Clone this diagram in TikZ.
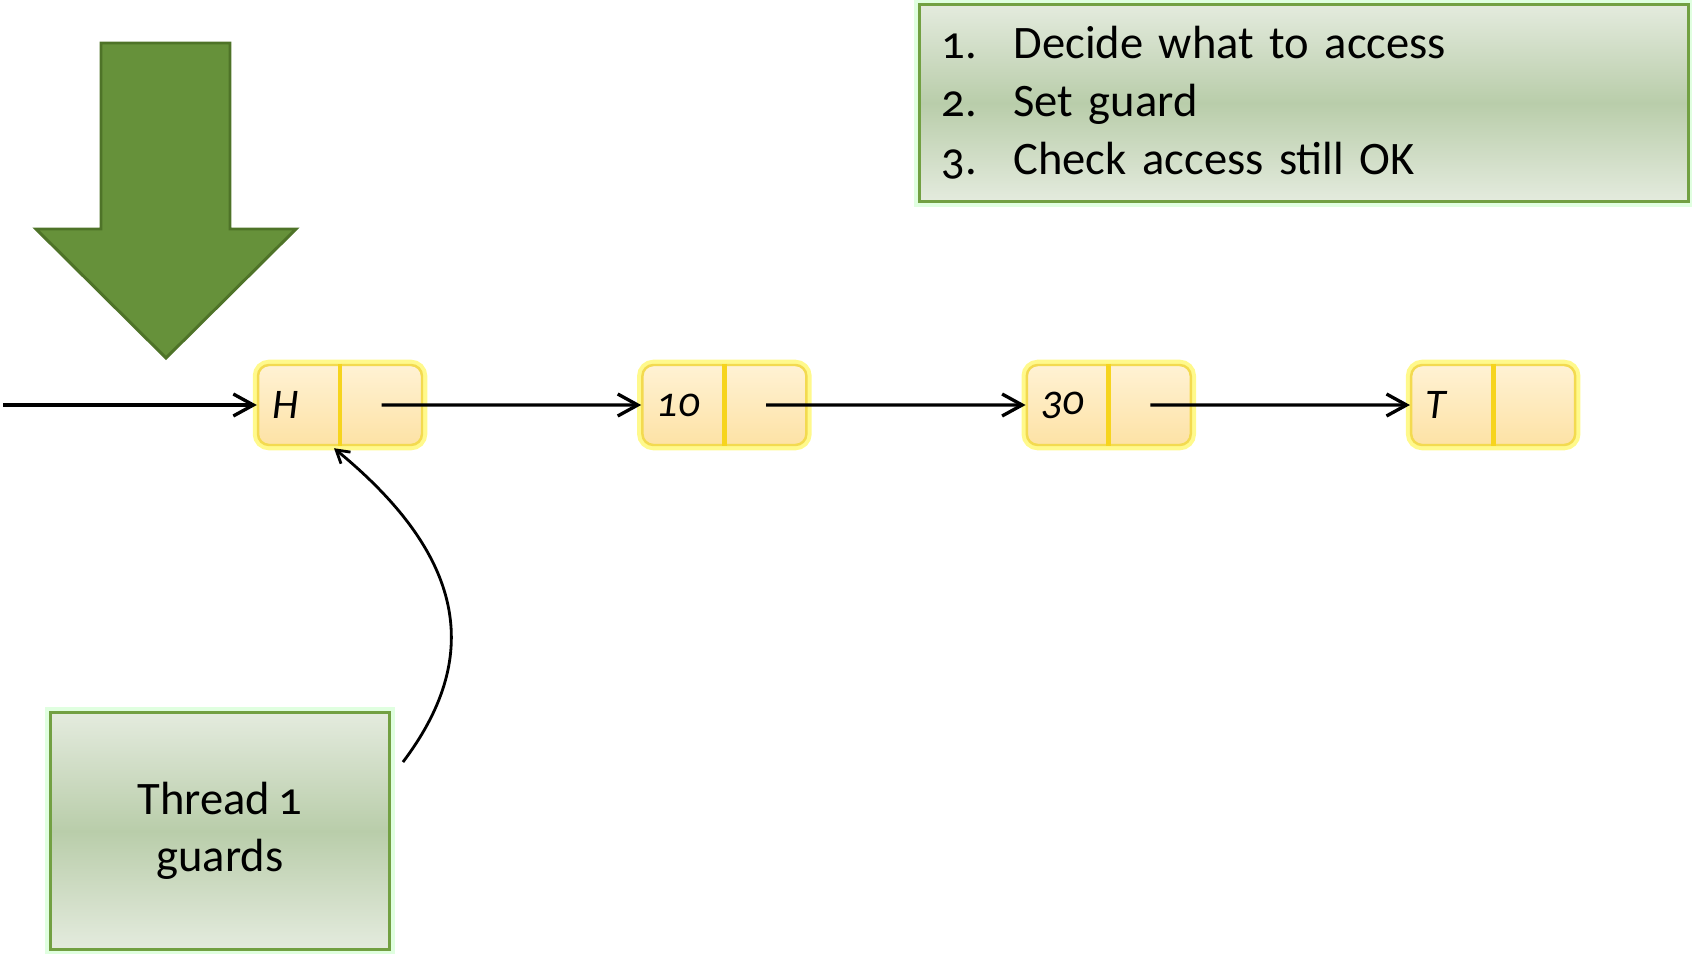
\documentclass[tikz,border=0pt]{standalone}
\usepackage{fontspec}
\setmainfont{Carlito}[Numbers=OldStyle, WordSpace=0.8]
\usetikzlibrary{positioning, arrows.meta, calc}

\definecolor{cellfill}{RGB}{255,242,212}
\definecolor{celldeep}{RGB}{253,226,165}
\definecolor{cellline}{RGB}{243,218,80}
\definecolor{cellbar}{RGB}{246,212,30}
\definecolor{notelight}{RGB}{228,235,222}
\definecolor{notemid}{RGB}{185,205,170}
\definecolor{noteline}{RGB}{114,160,66}
\definecolor{arrowfill}{RGB}{102,145,58}
\definecolor{arrowline}{RGB}{78,115,40}

\begin{document}
\begin{tikzpicture}[
    x=0.02cm, y=-0.02cm,
    node distance=4.36cm,
    >={Straight Barb[length=4mm, width=4.4mm]},
    cell/.style={rectangle, rounded corners=0.22cm, draw=cellline, line width=1.4pt,
                 top color=cellfill, bottom color=celldeep,
                 preaction={draw=yellow!45, line width=6pt},
                 minimum height=1.6cm, text width=2.7cm, inner xsep=0.29cm,
                 align=left, font=\fontsize{24}{28}\selectfont\itshape},
    note/.style={rectangle, draw=noteline, line width=1.7pt,
                 top color=notelight, bottom color=notelight, middle color=notemid,
                 preaction={draw=green!12, line width=6pt}},
    ptr/.style={->, line width=1.9pt},
    bar/.style={draw=cellbar, line width=2.8pt},
]
\useasboundingbox (0,0) rectangle (1692,953);

% Big green arrow pointing at the head
\draw[draw=arrowline, fill=arrowfill, line width=1.7pt]
    (101,43) -- (230,43) -- (230,229) -- (296,229) -- (166,358) -- (36,229) -- (101,229) -- cycle;

% Steps box, top right
\node[note, minimum width=15.38cm, minimum height=3.96cm, text width=14.5cm,
      inner xsep=0.44cm, align=left, font=\fontsize{26.5}{33}\selectfont] (steps) at (1304,103)
    {\makebox[1.44cm][l]{1.}Decide what to access\\
     \makebox[1.44cm][l]{2.}Set guard\\
     \makebox[1.44cm][l]{3.}Check access still OK};

% The list
\node[cell] (h) at (340,405) {H};
\node[cell, right=of h] (n10) {10};
\node[cell, right=of n10] (n30) {30};
\node[cell, right=of n30] (t) {T};
\foreach \c in {h,n10,n30,t}
    \draw[bar] (\c.north) -- (\c.south);

% Thread box, bottom left
\node[note, minimum width=6.78cm, minimum height=4.74cm, align=center,
      font=\fontsize{26.5}{32.5}\selectfont] (thread) at (220,831) {Thread 1\\guards};

% === Arrows ===
\coordinate (entry) at (3,405);
\draw[ptr] (entry) -- (h.west);
\foreach \a/\b in {h/n10, n10/n30, n30/t}
    \draw[ptr] ($(\a.center)!0.5!(\a.east)$) -- (\b.west);

% Guard pointer
\draw[-{Straight Barb[length=2.5mm, width=3mm]}, line width=1.6pt]
    ($(thread.north east)+(12,51)$) .. controls (480,660) and (470,560) .. ($(h.south)+(-6,2)$);

\end{tikzpicture}
\end{document}
